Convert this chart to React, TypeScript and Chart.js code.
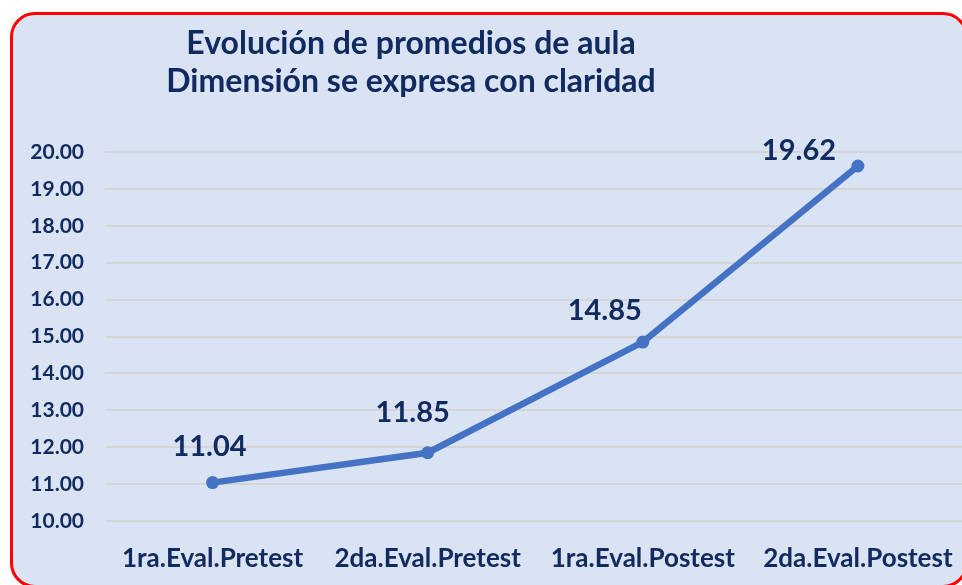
import React, { useEffect, useRef } from "react";
import { Chart, registerables } from "chart.js";

Chart.register(...registerables);

const categories = ["1ra.Eval.Pretest", "2da.Eval.Pretest", "1ra.Eval.Postest", "2da.Eval.Postest"];
const promedios = [11.04, 11.85, 14.85, 19.62];
const titleLines = ["Evolución de promedios de aula", "Dimensión se expresa con claridad"];
const yMin = 10;
const yMax = 20;
const yStep = 1;

// label offsets (px) relative to each point, as placed in the original
const labelDx = [-3, -15, -38, -59];
const labelDy = [-36, -40, -31, -15];

const NAVY = "#112A60";
const FONT = "Lato, 'Open Sans', sans-serif";

const overlayPlugin = {
  id: "overlay",
  afterDatasetsDraw(chart: any) {
    const ctx = chart.ctx;
    ctx.save();
    // title
    ctx.fillStyle = NAVY;
    ctx.font = `bold 32px ${FONT}`;
    ctx.textAlign = "center";
    ctx.textBaseline = "alphabetic";
    ctx.fillText(titleLines[0], 411, 54);
    ctx.fillText(titleLines[1], 411, 92);
    // data labels
    const meta = chart.getDatasetMeta(0);
    ctx.font = `bold 29px ${FONT}`;
    ctx.textBaseline = "middle";
    meta.data.forEach((pt: any, i: number) => {
      ctx.fillText(promedios[i].toFixed(2), pt.x + labelDx[i], pt.y + labelDy[i]);
    });
    ctx.restore();
  },
};

export default function App() {
  const ref = useRef<HTMLCanvasElement | null>(null);

  useEffect(() => {
    if (!ref.current) return;
    const chart = new Chart(ref.current, {
      type: "line",
      data: {
        labels: categories,
        datasets: [
          {
            data: promedios,
            borderColor: "#4472C4",
            backgroundColor: "#4472C4",
            borderWidth: 6.5,
            pointRadius: 6.5,
            pointHoverRadius: 6.5,
            pointBackgroundColor: "#4472C4",
            pointBorderWidth: 0,
            tension: 0,
          },
        ],
      },
      options: {
        responsive: false,
        animation: false,
        events: [],
        layout: { padding: { top: 152, right: 0, bottom: 14, left: 0 } },
        plugins: {
          legend: { display: false },
          title: { display: false },
          tooltip: { enabled: false },
        },
        scales: {
          x: {
            offset: true,
            afterFit: (s: any) => {
              s.height = 50;
              s.paddingLeft = 0;
              s.paddingRight = 0;
            },
            grid: { display: false, drawTicks: false },
            border: { display: false },
            ticks: {
              color: NAVY,
              font: { family: FONT, size: 26, weight: "bold" },
              padding: 22,
              maxRotation: 0,
              autoSkip: false,
            },
          },
          y: {
            min: yMin,
            max: yMax,
            afterFit: (s: any) => {
              s.width = 105;
            },
            grid: { color: "#D5D5D5", lineWidth: 2, drawTicks: false },
            border: { display: false },
            ticks: {
              stepSize: yStep,
              color: NAVY,
              font: { family: FONT, size: 21, weight: "bold" },
              padding: 21,
              callback: (v: any) => Number(v).toFixed(2),
            },
          },
        },
      },
      plugins: [overlayPlugin],
    });
    return () => chart.destroy();
  }, []);

  return (
    <div
      style={{
        position: "fixed",
        left: 0,
        top: 0,
        width: 962,
        height: 585,
        overflow: "hidden",
        background: "#FFFFFF",
      }}
    >
      <div
        style={{
          position: "absolute",
          left: 10,
          top: 12,
          width: 958,
          height: 576,
          boxSizing: "border-box",
          border: "3px solid #FF0000",
          borderRadius: 25,
          background: "#DAE3F3",
        }}
      />
      <canvas
        ref={ref}
        width={972}
        height={585}
        style={{ position: "absolute", left: 0, top: 0, width: 972, height: 585 }}
      />
    </div>
  );
}
